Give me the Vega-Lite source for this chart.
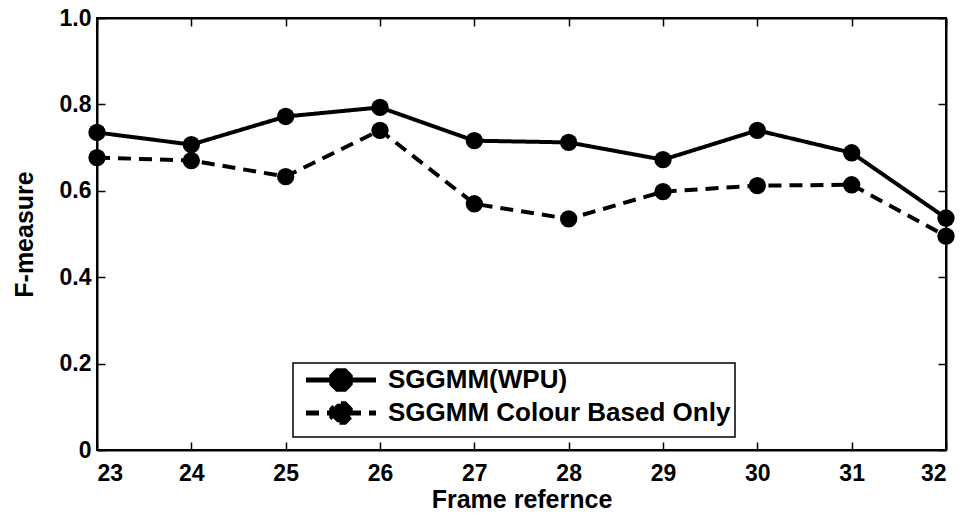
{
  "$schema": "https://vega.github.io/schema/vega-lite/v6.json",
  "autosize": {"type": "none"},
  "width": 849,
  "height": 432,
  "padding": {"left": 97, "top": 18, "right": 21, "bottom": 66},
  "background": "white",
  "config": {
    "font": "Liberation Sans",
    "view": {"stroke": "black", "strokeWidth": 2},
    "axis": {"grid": false, "domainColor": "black", "domainWidth": 2, "tickColor": "black", "tickWidth": 1.5, "labelColor": "black", "titleColor": "black", "labelFont": "Liberation Sans", "titleFont": "Liberation Sans", "labelFontWeight": "bold", "titleFontWeight": "bold", "labelFontSize": 23, "titleFontSize": 25}
  },
  "data": {"values": [
    {"frame": 23, "series": "SGGMM(WPU)", "f": 0.735},
    {"frame": 24, "series": "SGGMM(WPU)", "f": 0.707},
    {"frame": 25, "series": "SGGMM(WPU)", "f": 0.772},
    {"frame": 26, "series": "SGGMM(WPU)", "f": 0.793},
    {"frame": 27, "series": "SGGMM(WPU)", "f": 0.716},
    {"frame": 28, "series": "SGGMM(WPU)", "f": 0.712},
    {"frame": 29, "series": "SGGMM(WPU)", "f": 0.672},
    {"frame": 30, "series": "SGGMM(WPU)", "f": 0.740},
    {"frame": 31, "series": "SGGMM(WPU)", "f": 0.688},
    {"frame": 32, "series": "SGGMM(WPU)", "f": 0.537},
    {"frame": 23, "series": "SGGMM Colour Based Only", "f": 0.677},
    {"frame": 24, "series": "SGGMM Colour Based Only", "f": 0.670},
    {"frame": 25, "series": "SGGMM Colour Based Only", "f": 0.633},
    {"frame": 26, "series": "SGGMM Colour Based Only", "f": 0.740},
    {"frame": 27, "series": "SGGMM Colour Based Only", "f": 0.570},
    {"frame": 28, "series": "SGGMM Colour Based Only", "f": 0.535},
    {"frame": 29, "series": "SGGMM Colour Based Only", "f": 0.598},
    {"frame": 30, "series": "SGGMM Colour Based Only", "f": 0.612},
    {"frame": 31, "series": "SGGMM Colour Based Only", "f": 0.614},
    {"frame": 32, "series": "SGGMM Colour Based Only", "f": 0.495}
  ]},
  "layer": [
    {
      "mark": {"type": "line", "color": "black", "strokeWidth": 4, "point": {"filled": true, "size": 300, "color": "black"}},
      "encoding": {
        "x": {"field": "frame", "type": "quantitative", "scale": {"domain": [23, 32], "nice": false, "zero": false}, "axis": {"values": [23,24,25,26,27,28,29,30,31,32], "tickSize": -8, "labelPadding": 20, "title": "Frame refernce", "titlePadding": 2}},
        "y": {"field": "f", "type": "quantitative", "scale": {"domain": [0, 1], "nice": false}, "axis": {"values": [0,0.2,0.4,0.6,0.8,1.0], "tickSize": -8, "labelPadding": 14, "labelExpr": "datum.value == 0 ? '0' : format(datum.value, '.1f')", "title": "F-measure", "titlePadding": 22}},
        "strokeDash": {"field": "series", "type": "nominal", "scale": {"domain": ["SGGMM(WPU)", "SGGMM Colour Based Only"], "range": [[1, 0], [13, 8]]},
          "legend": {"title": null, "orient": "none", "legendX": 196, "legendY": 345, "strokeColor": "black", "fillColor": "white", "padding": 4, "symbolType": "M-0.8,0H13.2M8.048,0.766L6.966,1.848L5.434,1.848L4.352,0.766L4.352,-0.766L5.434,-1.848L6.966,-1.848L8.048,-0.766Z", "symbolSize": 100, "symbolStrokeWidth": 5, "symbolStrokeColor": "black", "symbolFillColor": "black", "labelFontSize": 26, "labelFontWeight": "bold", "labelColor": "black", "labelFont": "Liberation Sans", "labelLimit": 0, "rowPadding": -8, "labelOffset": 65,
            "encode": {"symbols": {"update": {"stroke": {"value": "black"}, "strokeWidth": {"value": 5}, "fill": {"value": "black"}, "opacity": {"value": 1}}}, "legend": {"update": {"strokeWidth": {"value": 1.5}}}}}}
      }
    },
    {
      "mark": {"type": "point", "opacity": 0},
      "encoding": {
        "x": {"field": "frame", "type": "quantitative", "axis": {"orient": "top", "values": [23,24,25,26,27,28,29,30,31,32], "tickSize": -8, "labels": false, "title": null}},
        "y": {"field": "f", "type": "quantitative", "axis": {"orient": "right", "values": [0,0.2,0.4,0.6,0.8,1.0], "tickSize": -8, "labels": false, "title": null}}
      }
    }
  ],
  "resolve": {"axis": {"x": "independent", "y": "independent"}}
}
